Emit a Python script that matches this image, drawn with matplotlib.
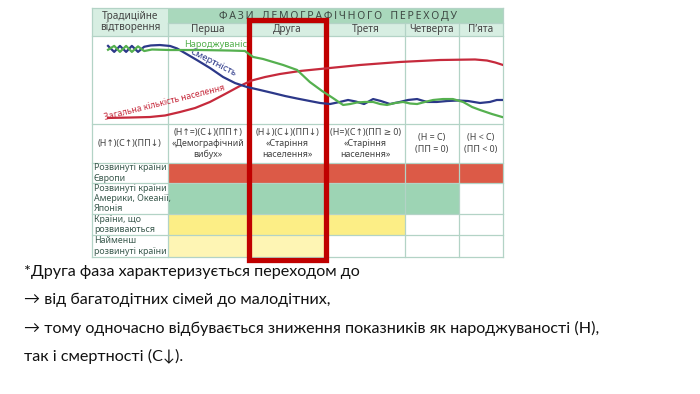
import matplotlib.pyplot as plt
from matplotlib.patches import Rectangle

# --- chart content ---------------------------------------------------------
phases = ['Перша', 'Друга', 'Третя', 'Четверта', 'П’ята']
formulas = [
    '(Н↑)(С↑)(ПП↓)',
    '(Н↑=)(С↓)(ПП↑)\n«Демографічний\nвибух»',
    '(Н↓)(С↓)(ПП↓)\n«Старіння\nнаселення»',
    '(Н=)(С↑)(ПП ≥ 0)\n«Старіння\nнаселення»',
    '(Н = С)\n(ПП = 0)',
    '(Н < С)\n(ПП < 0)',
]
regions = ['Розвинуті країни\nЄвропи',
           'Розвинуті країни\nАмерики, Океанії,\nЯпонія',
           'Країни, що\nрозвиваються',
           'Найменш\nрозвинуті країни']
phases_reached = [5, 4, 3, 2]
region_colors = ['#dc5a47', '#9dd4b4', '#fcee86', '#fef5b4']

# curves: time (0-100) vs relative level (0-100)
t_birth = [3.9, 5.4, 6.8, 8.3, 9.7, 11.2, 12.7, 14.6, 19.0, 26.3, 33.6, 37.2,
           39.2, 41.6, 46.5, 49.9, 53.0, 56.0, 58.6, 61.1, 62.8, 64.5, 66.4, 68.4,
           70.1, 71.8, 73.7, 75.7, 77.4, 79.1, 81.0, 83.0, 85.4, 87.8, 90.3, 92.5,
           94.4, 97.3, 99.8]
birth = [84.0, 88.5, 81.5, 88.5, 81.5, 88.0, 82.5, 84.3, 83.7, 83.7, 83.1, 82.6,
         75.6, 73.3, 66.3, 60.5, 46.5, 36.0, 27.9, 19.8, 20.9, 22.7, 23.3, 23.3,
         20.9, 19.8, 22.1, 23.3, 21.5, 20.9, 23.3, 25.6, 26.7, 26.7, 23.3, 17.4,
         14.0, 9.3, 5.8]
t_death = [3.9, 5.4, 6.8, 8.3, 9.7, 11.2, 12.7, 14.3, 16.5, 19.0, 20.7, 22.6,
           25.5, 28.7, 31.9, 34.8, 37.7, 40.9, 44.0, 47.0, 49.9, 53.0, 55.5, 57.9,
           60.3, 62.3, 64.2, 66.2, 68.4, 70.3, 72.5, 74.9, 76.9, 79.1, 81.5, 83.9,
           86.4, 89.1, 91.5, 94.4, 96.8, 98.5, 100]
death = [88.5, 81.5, 88.5, 81.5, 88.5, 81.5, 87.5, 89.0, 89.5, 88.4, 85.5, 80.2,
         72.1, 62.8, 52.3, 45.3, 40.7, 37.2, 33.7, 30.2, 27.3, 24.4, 22.1, 20.9,
         23.3, 25.6, 23.8, 20.9, 26.7, 24.4, 20.9, 23.3, 25.6, 26.7, 23.3, 23.3,
         24.4, 25.0, 24.4, 22.1, 23.3, 25.6, 25.6]
t_pop = [3.9, 9.2, 14.1, 17.8, 21.4, 25.1, 28.7, 32.4, 36.0, 38.9, 42.1, 45.7, 50.6,
         57.9, 65.2, 74.9, 84.7, 93.2, 96.1, 98.1, 100]
pop = [4.7, 5.2, 5.8, 7.6, 11.6, 16.3, 23.3, 32.6, 41.9, 48.3, 52.3, 55.8, 59.3,
       62.8, 66.3, 69.8, 72.1, 72.7, 71.5, 69.2, 66.3]

notes = ['*Друга фаза характеризується переходом до',
         '→ від багатодітних сімей до малодітних,',
         '→ тому одночасно відбувається зниження показників як народжуваності (Н),',
         'так і смертності (С↓).']

# --- layout ----------------------------------------------------------------
col_x = [92, 168, 248, 326, 405, 459, 503]
row_y = [8, 23, 36, 124, 163, 183, 214, 235, 257]
grid_c = '#b3d3c6'
txt_c = '#444444'
lab_c = '#3b5a4e'
fam = ['Noto Sans', 'DejaVu Sans']

fig = plt.figure(figsize=(7, 3.94), dpi=100)
ax = fig.add_axes([0, 0, 1, 1])
ax.set_xlim(0, 700)
ax.set_ylim(394, 0)
ax.axis('off')

# header backgrounds
ax.add_patch(Rectangle((col_x[0], row_y[0]), col_x[1] - col_x[0], row_y[2] - row_y[0],
                       color='#d7eee2', lw=0))
ax.add_patch(Rectangle((col_x[1], row_y[0]), col_x[-1] - col_x[1], row_y[1] - row_y[0],
                       color='#a9d8bc', lw=0))
ax.add_patch(Rectangle((col_x[1], row_y[1]), col_x[-1] - col_x[1], row_y[2] - row_y[1],
                       color='#d7eee2', lw=0))

# coloured region cells
for i, n in enumerate(phases_reached):
    for j in range(n):
        ax.add_patch(Rectangle((col_x[j + 1], row_y[4 + i]), col_x[j + 2] - col_x[j + 1],
                               row_y[5 + i] - row_y[4 + i], color=region_colors[i], lw=0))

# grid lines
for y in row_y:
    x0 = col_x[1] if y == row_y[1] else col_x[0]
    ax.plot([x0, col_x[-1]], [y, y], color=grid_c, lw=0.9)
for k, x in enumerate(col_x):
    y0 = row_y[1] if 0 < k < len(col_x) - 1 else row_y[0]
    ax.plot([x, x], [y0, row_y[-1]], color=grid_c, lw=0.9)

# header text
ax.text((col_x[0] + col_x[1]) / 2, (row_y[0] + row_y[2]) / 2, 'Традиційне\nвідтворення',
        ha='center', va='center', fontsize=7.2, color=txt_c, family=fam, linespacing=1.1)
title = '\u2009'.join('ФАЗИ') + '   ' + '\u2009'.join('ДЕМОГРАФІЧНОГО') + '   ' + \
    '\u2009'.join('ПЕРЕХОДУ')
ax.text(338, (row_y[0] + row_y[1]) / 2 + 0.5, title,
        ha='center', va='center', fontsize=7.6, fontweight='bold', color='#3e4a44', family=fam)
for j, p in enumerate(phases):
    ax.text((col_x[j + 1] + col_x[j + 2]) / 2, (row_y[1] + row_y[2]) / 2, p,
            ha='center', va='center', fontsize=7.2, color=txt_c, family=fam)

# formula row
for j, f in enumerate(formulas):
    ax.text((col_x[j] + col_x[j + 1]) / 2, (row_y[3] + row_y[4]) / 2, f,
            ha='center', va='center', fontsize=6.4, color=txt_c, family=fam, linespacing=1.3)

# region labels
for i, r in enumerate(regions):
    ax.text(col_x[0] + 2, (row_y[4 + i] + row_y[5 + i]) / 2, r, ha='left', va='center',
            fontsize=6.4, color=lab_c, family=fam, linespacing=1.15)

# curves
cax = fig.add_axes([col_x[0] / 700, 1 - 122 / 394, (col_x[-1] - col_x[0]) / 700, 86 / 394])
cax.set_xlim(0, 100)
cax.set_ylim(0, 100)
cax.axis('off')
cax.patch.set_alpha(0)
cax.plot(t_pop, pop, color='#c62a3c', lw=1.6)
cax.plot(t_death, death, color='#2c3889', lw=1.6)
cax.plot(t_birth, birth, color='#55b04f', lw=1.6)

lbl = ax.text(184, 44, 'Народжуваність', ha='left', va='center', fontsize=6.6,
              color='#55b04f', family=fam, clip_on=True)
lbl.set_clip_path(Rectangle((0, 0), 248, 394, transform=ax.transData))
ax.text(213, 63, 'Смертність', ha='center', va='center', fontsize=6.8, color='#2c3889',
        family=fam, rotation=-27, rotation_mode='anchor')
ax.text(165, 103, 'Загальна кількість населення', ha='center', va='center', fontsize=6.2,
        color='#c62a3c', family=fam, rotation=14, rotation_mode='anchor')

# highlight of the second phase
ax.add_patch(Rectangle((248.5, 19.5), 77, 240, fill=False, ec='#c00000', lw=3.8, zorder=10))

# notes below
for k, line in enumerate(notes):
    ax.text(24, 272 + 28 * k, line, ha='left', va='center', fontsize=11.6, color='#111111',
            family=['Lato', 'DejaVu Sans'])

fig.savefig('out.png', dpi=100)
